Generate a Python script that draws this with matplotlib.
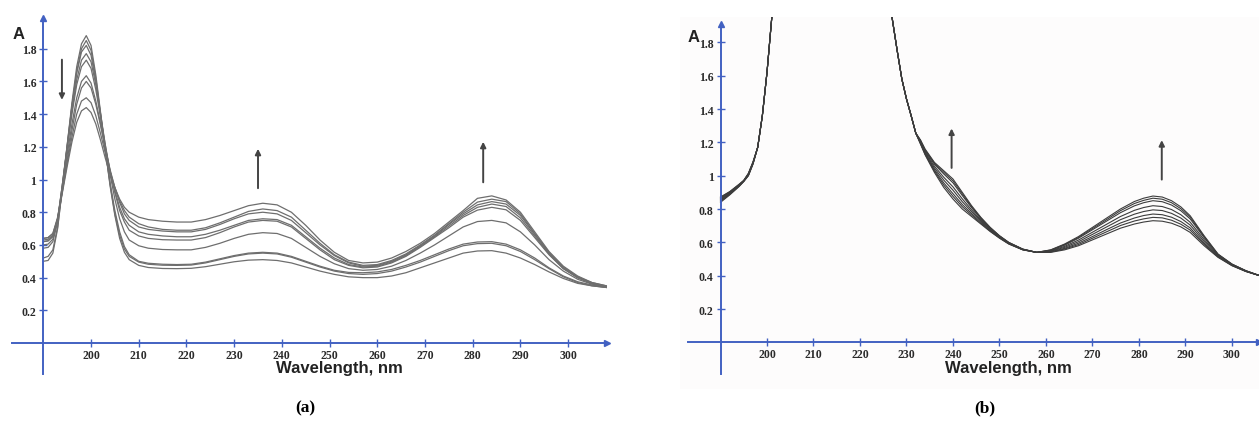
import matplotlib.pyplot as plt

plt.rcParams['font.family'] = ['Liberation Sans', 'DejaVu Sans']

# ---------- panel (a) spectra ----------
wl_a = [190, 191, 192, 193, 194, 195, 196, 197, 198, 199, 200, 201, 202, 203, 204, 205, 206, 207, 208,
        210, 212, 215, 218, 221, 224, 227, 230, 233, 236, 239, 242, 245, 248, 251, 254, 257, 260, 263,
        266, 269, 272, 275, 278, 281, 284, 287, 290, 293, 296, 299, 302, 305, 308]

a1 = [0.50, 0.505, 0.55, 0.70, 0.95, 1.21, 1.47, 1.69, 1.83, 1.88, 1.82, 1.64, 1.41, 1.18, 0.96, 0.78, 0.64, 0.555, 0.51,
      0.475, 0.462, 0.456, 0.455, 0.457, 0.467, 0.482, 0.497, 0.507, 0.51, 0.505, 0.49, 0.465, 0.44, 0.42, 0.405, 0.40,
      0.40, 0.41, 0.43, 0.46, 0.49, 0.52, 0.55, 0.563, 0.565, 0.55, 0.52, 0.48, 0.435, 0.395, 0.365, 0.35, 0.34]
a2 = [0.52, 0.53, 0.57, 0.71, 0.95, 1.20, 1.45, 1.66, 1.80, 1.85, 1.79, 1.62, 1.40, 1.18, 0.97, 0.79, 0.66, 0.575, 0.53,
      0.495, 0.482, 0.476, 0.475, 0.477, 0.49, 0.51, 0.53, 0.545, 0.55, 0.545, 0.525, 0.495, 0.465, 0.44, 0.425, 0.42,
      0.425, 0.44, 0.465, 0.495, 0.53, 0.565, 0.595, 0.608, 0.61, 0.595, 0.56, 0.51, 0.455, 0.405, 0.37, 0.35, 0.34]
a3 = [0.58, 0.585, 0.62, 0.74, 0.97, 1.21, 1.45, 1.65, 1.78, 1.82, 1.76, 1.60, 1.39, 1.18, 0.98, 0.81, 0.68, 0.59, 0.54,
      0.50, 0.488, 0.482, 0.48, 0.482, 0.495, 0.515, 0.535, 0.55, 0.555, 0.55, 0.53, 0.50, 0.47, 0.445, 0.432, 0.43,
      0.435, 0.45, 0.475, 0.505, 0.54, 0.575, 0.605, 0.618, 0.62, 0.605, 0.57, 0.52, 0.46, 0.41, 0.375, 0.355, 0.34]
a4 = [0.60, 0.605, 0.635, 0.75, 0.97, 1.20, 1.42, 1.61, 1.73, 1.77, 1.72, 1.58, 1.40, 1.21, 1.03, 0.88, 0.76, 0.68, 0.63,
      0.595, 0.58, 0.572, 0.57, 0.57, 0.585, 0.61, 0.64, 0.665, 0.675, 0.67, 0.64, 0.585, 0.53, 0.485, 0.455, 0.445,
      0.45, 0.47, 0.505, 0.55, 0.60, 0.655, 0.71, 0.743, 0.75, 0.735, 0.68, 0.60, 0.51, 0.44, 0.39, 0.36, 0.345]
a5 = [0.62, 0.625, 0.655, 0.76, 0.97, 1.19, 1.40, 1.58, 1.69, 1.73, 1.68, 1.55, 1.38, 1.21, 1.05, 0.92, 0.81, 0.74, 0.69,
      0.655, 0.64, 0.632, 0.63, 0.63, 0.645, 0.675, 0.71, 0.74, 0.75, 0.745, 0.71, 0.64, 0.57, 0.51, 0.475, 0.46,
      0.465, 0.49, 0.53, 0.585, 0.645, 0.705, 0.77, 0.813, 0.83, 0.815, 0.75, 0.645, 0.54, 0.455, 0.40, 0.365, 0.345]
a6 = [0.63, 0.635, 0.66, 0.76, 0.95, 1.15, 1.34, 1.50, 1.60, 1.635, 1.59, 1.48, 1.34, 1.19, 1.05, 0.93, 0.83, 0.76, 0.72,
      0.68, 0.665, 0.655, 0.65, 0.65, 0.665, 0.69, 0.72, 0.75, 0.76, 0.755, 0.72, 0.65, 0.58, 0.52, 0.48, 0.465,
      0.47, 0.495, 0.535, 0.59, 0.65, 0.715, 0.78, 0.83, 0.85, 0.835, 0.765, 0.655, 0.545, 0.455, 0.40, 0.365, 0.345]
a7 = [0.62, 0.625, 0.65, 0.75, 0.93, 1.12, 1.30, 1.46, 1.56, 1.60, 1.56, 1.46, 1.33, 1.19, 1.06, 0.95, 0.86, 0.79, 0.75,
      0.71, 0.695, 0.685, 0.68, 0.68, 0.695, 0.725, 0.76, 0.79, 0.80, 0.79, 0.75, 0.675, 0.60, 0.535, 0.49, 0.47,
      0.475, 0.50, 0.54, 0.595, 0.655, 0.725, 0.79, 0.845, 0.865, 0.85, 0.78, 0.665, 0.55, 0.46, 0.40, 0.365, 0.345]
a8 = [0.64, 0.645, 0.67, 0.77, 0.93, 1.10, 1.26, 1.40, 1.48, 1.50, 1.47, 1.39, 1.28, 1.16, 1.05, 0.95, 0.87, 0.81, 0.77,
      0.73, 0.71, 0.695, 0.69, 0.69, 0.705, 0.735, 0.77, 0.805, 0.82, 0.81, 0.77, 0.69, 0.61, 0.54, 0.495, 0.475,
      0.48, 0.505, 0.545, 0.60, 0.66, 0.73, 0.80, 0.862, 0.88, 0.865, 0.79, 0.67, 0.555, 0.465, 0.405, 0.37, 0.35]
a9 = [0.64, 0.645, 0.67, 0.76, 0.92, 1.08, 1.23, 1.35, 1.42, 1.44, 1.41, 1.34, 1.24, 1.13, 1.03, 0.95, 0.88, 0.83, 0.80,
      0.77, 0.755, 0.745, 0.74, 0.74, 0.755, 0.78, 0.81, 0.84, 0.855, 0.845, 0.80, 0.72, 0.63, 0.555, 0.505, 0.49,
      0.495, 0.52, 0.56, 0.61, 0.67, 0.74, 0.81, 0.885, 0.90, 0.875, 0.80, 0.68, 0.56, 0.47, 0.41, 0.37, 0.35]

# ---------- panel (b) spectra ----------
wl_b = [190, 192, 194, 195, 196, 197, 198, 199, 200, 201, 202, 225, 226, 227, 228, 229, 230, 231, 232, 233,
        234, 236, 238, 240, 242, 244, 246, 248, 250, 252, 255, 258, 261, 264, 267, 270, 273, 276, 279, 281,
        283, 285, 287, 289, 291, 294, 297, 300, 303, 306]

b1 = [0.84, 0.885, 0.935, 0.965, 1.0, 1.07, 1.17, 1.36, 1.62, 1.94, 2.3, 2.3, 2.12, 1.93, 1.75, 1.58, 1.46, 1.36, 1.255, 1.19,
      1.125, 1.02, 0.93, 0.86, 0.80, 0.755, 0.71, 0.665, 0.625, 0.59, 0.555, 0.54, 0.54, 0.555, 0.58, 0.615, 0.65, 0.685, 0.71, 0.722,
      0.73, 0.727, 0.715, 0.693, 0.66, 0.58, 0.51, 0.46, 0.425, 0.40]
b2 = [0.845, 0.888, 0.937, 0.966, 1.0, 1.072, 1.17, 1.36, 1.62, 1.94, 2.3, 2.3, 2.12, 1.93, 1.75, 1.58, 1.46, 1.36, 1.255, 1.193,
      1.129, 1.028, 0.944, 0.876, 0.814, 0.764, 0.715, 0.668, 0.627, 0.591, 0.556, 0.54, 0.542, 0.56, 0.587, 0.625, 0.663, 0.701, 0.728, 0.741,
      0.75, 0.747, 0.733, 0.709, 0.674, 0.588, 0.513, 0.461, 0.426, 0.40]
b3 = [0.85, 0.891, 0.939, 0.967, 1.005, 1.074, 1.17, 1.36, 1.62, 1.94, 2.3, 2.3, 2.12, 1.93, 1.75, 1.58, 1.46, 1.36, 1.255, 1.197,
      1.133, 1.036, 0.957, 0.892, 0.827, 0.773, 0.721, 0.672, 0.629, 0.593, 0.556, 0.54, 0.544, 0.564, 0.595, 0.635, 0.676, 0.716, 0.746, 0.761,
      0.77, 0.766, 0.751, 0.725, 0.687, 0.596, 0.515, 0.463, 0.426, 0.40]
b4 = [0.855, 0.894, 0.941, 0.968, 1.005, 1.076, 1.17, 1.36, 1.62, 1.94, 2.3, 2.3, 2.12, 1.93, 1.75, 1.58, 1.46, 1.36, 1.255, 1.201,
      1.138, 1.046, 0.974, 0.913, 0.844, 0.784, 0.728, 0.676, 0.632, 0.594, 0.557, 0.54, 0.547, 0.57, 0.604, 0.648, 0.692, 0.736, 0.769, 0.785,
      0.795, 0.791, 0.774, 0.746, 0.704, 0.606, 0.519, 0.464, 0.427, 0.40]
b5 = [0.86, 0.897, 0.943, 0.969, 1.01, 1.078, 1.17, 1.36, 1.62, 1.94, 2.3, 2.3, 2.12, 1.93, 1.75, 1.58, 1.46, 1.36, 1.255, 1.205,
      1.144, 1.057, 0.991, 0.933, 0.861, 0.795, 0.734, 0.68, 0.634, 0.596, 0.558, 0.54, 0.549, 0.576, 0.614, 0.661, 0.708, 0.755, 0.792, 0.809,
      0.82, 0.815, 0.797, 0.766, 0.721, 0.617, 0.522, 0.466, 0.428, 0.40]
b6 = [0.865, 0.90, 0.945, 0.97, 1.01, 1.08, 1.17, 1.36, 1.62, 1.94, 2.3, 2.3, 2.12, 1.93, 1.75, 1.58, 1.46, 1.36, 1.255, 1.21,
      1.15, 1.069, 1.011, 0.957, 0.881, 0.808, 0.742, 0.685, 0.637, 0.598, 0.559, 0.54, 0.552, 0.583, 0.625, 0.676, 0.727, 0.778, 0.819, 0.838,
      0.85, 0.844, 0.824, 0.79, 0.741, 0.629, 0.526, 0.468, 0.429, 0.40]
b7 = [0.87, 0.903, 0.947, 0.971, 1.012, 1.082, 1.17, 1.36, 1.62, 1.94, 2.3, 2.3, 2.12, 1.93, 1.75, 1.58, 1.46, 1.36, 1.255, 1.212,
      1.155, 1.075, 1.021, 0.969, 0.891, 0.814, 0.746, 0.688, 0.639, 0.599, 0.559, 0.54, 0.554, 0.587, 0.63, 0.683, 0.736, 0.79, 0.833, 0.852,
      0.865, 0.859, 0.838, 0.802, 0.751, 0.635, 0.528, 0.469, 0.43, 0.40]
b8 = [0.872, 0.905, 0.949, 0.972, 1.015, 1.084, 1.17, 1.36, 1.62, 1.94, 2.3, 2.3, 2.12, 1.93, 1.75, 1.58, 1.46, 1.36, 1.255, 1.215,
      1.16, 1.08, 1.03, 0.98, 0.90, 0.82, 0.75, 0.69, 0.64, 0.60, 0.56, 0.54, 0.555, 0.59, 0.635, 0.69, 0.745, 0.80, 0.845, 0.865,
      0.878, 0.872, 0.85, 0.813, 0.76, 0.64, 0.53, 0.47, 0.43, 0.40]

x_ticks = [200, 210, 220, 230, 240, 250, 260, 270, 280, 290, 300]
y_ticks = [0.2, 0.4, 0.6, 0.8, 1.0, 1.2, 1.4, 1.6, 1.8]
y_ticklabels = ['0.2', '0.4', '0.6', '0.8', '1', '1.2', '1.4', '1.6', '1.8']

# arrows: x position, tail value, head value
arrows_a = [(193.9, 1.75, 1.47), (235.0, 0.93, 1.205), (282.2, 0.966, 1.248)]
arrows_b = [(239.7, 1.03, 1.30), (284.9, 0.96, 1.23)]

W, H = 1259, 435
BLUE = '#4261c2'
fig = plt.figure(figsize=(W / 100, H / 100), dpi=100)


def panel(px0, px1, pytop, pybot, xlim, ylim, bg, x_axis, y_axis_top):
    ax = fig.add_axes([px0 / W, 1 - pybot / H, (px1 - px0) / W, (pybot - pytop) / H])
    ax.set_xlim(*xlim)
    ax.set_ylim(*ylim)
    ax.set_facecolor(bg)
    for s in ['top', 'right']:
        ax.spines[s].set_visible(False)
    ax.spines['left'].set_position(('data', 190))
    ax.spines['bottom'].set_position(('data', 0))
    ax.spines['left'].set_bounds(-0.19, y_axis_top)
    ax.spines['bottom'].set_bounds(*x_axis)
    for s in ['left', 'bottom']:
        ax.spines[s].set_color(BLUE)
        ax.spines[s].set_linewidth(1.4)
    ax.set_xticks(x_ticks)
    ax.set_xticklabels([str(t) for t in x_ticks])
    ax.set_yticks(y_ticks)
    ax.set_yticklabels(y_ticklabels)
    ax.tick_params(direction='inout', length=6, width=1.0, color=BLUE)
    ax.tick_params(axis='x', pad=1)
    ax.tick_params(axis='y', pad=2)
    for lab in ax.get_xticklabels() + ax.get_yticklabels():
        lab.set_fontfamily('Liberation Serif')
        lab.set_fontweight('bold')
        lab.set_fontsize(8.5)
        lab.set_color('#2a2a2a')
    # arrow heads on the axes
    ax.plot([190], [y_axis_top], marker='^', ms=5, color=BLUE, clip_on=False, zorder=5)
    ax.plot([x_axis[1]], [0], marker='>', ms=5, color=BLUE, clip_on=False, zorder=5)
    ax.text(252, -0.15, 'Wavelength, nm', ha='center', va='center', fontsize=12,
            fontweight='bold', color='#222222')
    return ax


# panel (a): 4.77 px per nm, 200 nm at x=91 px; 163.5 px per A unit, A=0 at y=344 px
ax_a = panel(0, 612, 0, 390, (180.92, 309.2), (-0.281, 2.104), 'white', (183.4, 308.2), 1.99)
for y in [a1, a2, a3, a4, a5, a6, a7, a8, a9]:
    ax_a.plot(wl_a, y, color='#6e6e6e', lw=0.9)
for x, y0, y1 in arrows_a:
    ax_a.annotate('', xy=(x, y1), xytext=(x, y0),
                  arrowprops=dict(arrowstyle='-|>', color='#444444', lw=1.4, mutation_scale=8))
ax_a.text(184.8, 1.896, 'A', ha='center', va='center', fontsize=12, fontweight='bold', color='#222222')

# panel (b): 4.65 px per nm, 200 nm at x=767 px; 166.7 px per A unit, A=0 at y=343.4 px
ax_b = panel(680, 1259, 18, 390, (181.29, 305.81), (-0.2796, 1.952), '#fdfcfc', (183.0, 305.8), 1.91)
for y in [b1, b2, b3, b4, b5, b6, b7, b8]:
    ax_b.plot(wl_b, y, color='#3c3c3c', lw=0.8)
for x, y0, y1 in arrows_b:
    ax_b.annotate('', xy=(x, y1), xytext=(x, y0),
                  arrowprops=dict(arrowstyle='-|>', color='#444444', lw=1.4, mutation_scale=8))
ax_b.text(184.3, 1.838, 'A', ha='center', va='center', fontsize=12, fontweight='bold', color='#222222')

fig.text(305 / W, 1 - 408 / H, '(a)', ha='center', va='center', fontsize=12.5,
         fontweight='bold', family='Liberation Serif')
fig.text(985 / W, 1 - 408 / H, '(b)', ha='center', va='center', fontsize=12.5,
         fontweight='bold', family='Liberation Serif')

plt.savefig('out.png', dpi=100, facecolor='white')
